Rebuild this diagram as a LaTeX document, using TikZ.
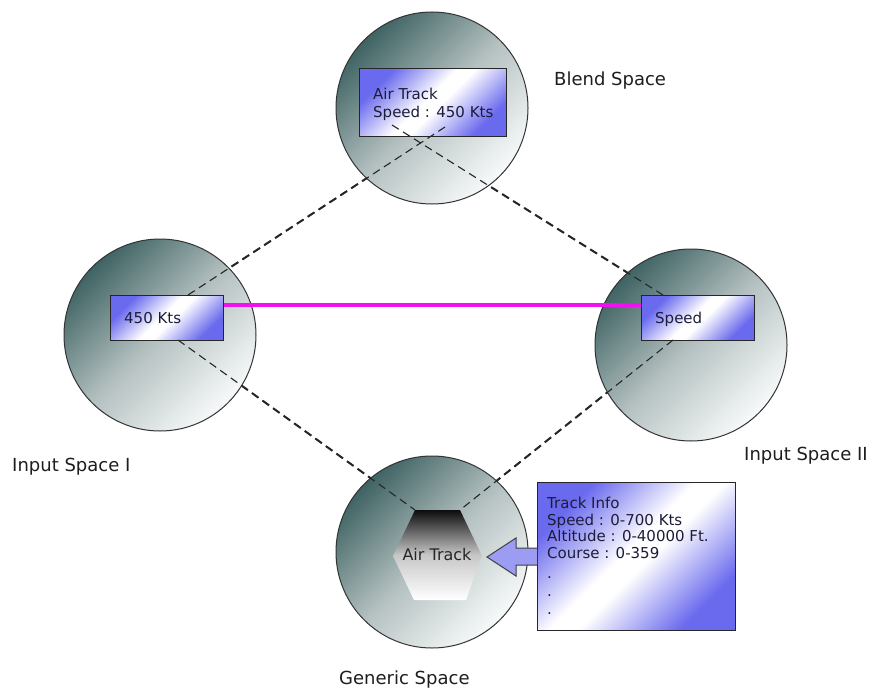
\documentclass[tikz,border=0pt]{standalone}
\usepackage{fontspec}
\setmainfont{DejaVu Sans}
\definecolor{cdark}{HTML}{3F6363}
\definecolor{cmid}{HTML}{B4C0C0}
\definecolor{clight}{HTML}{F8FAFA}
\definecolor{bblue}{HTML}{6A6AEE}
\definecolor{arrowfill}{HTML}{9C9CF2}
\definecolor{txt}{HTML}{1E1E1E}
\definecolor{boxtxt}{HTML}{1C1C3A}
\definecolor{mag}{HTML}{F010F0}
\pgfdeclarehorizontalshading{boxshade}{100bp}{color(0bp)=(bblue); color(26bp)=(bblue); color(47bp)=(white); color(53bp)=(white); color(74bp)=(bblue); color(100bp)=(bblue)}
\tikzset{
  space/.style={circle, minimum size=192pt, inner sep=0pt, draw=black!80, line width=1pt,
    top color=cdark, bottom color=clight, middle color=cmid, shading angle=45},
  infobox/.style={rectangle, inner sep=0pt, draw=black!85, line width=1pt,
    shading=boxshade, shading angle=-45},
  thickdash/.style={black!85, line width=2pt, dash pattern=on 8pt off 5pt},
  thindash/.style={black!85, line width=1.1pt, dash pattern=on 8pt off 5pt},
  magline/.style={mag, line width=4pt},
  label/.style={anchor=base west, inner sep=0pt, text=txt, font=\fontsize{18}{22}\selectfont},
  boxtext/.style={anchor=base west, inner sep=0pt, text=boxtxt, font=\fontsize{15}{18}\selectfont},
}
\begin{document}
\begin{tikzpicture}[x=1pt,y=-1pt]
\useasboundingbox (0,0) rectangle (882,690);
\fill[white] (0,0) rectangle (882,690);

% connector end points
\coordinate (blendA) at (445,127);
\coordinate (blendB) at (392,125);
\coordinate (inOneT) at (188,295);
\coordinate (inOneB) at (178,340);
\coordinate (inTwoT) at (663,295);
\coordinate (inTwoB) at (673,340);
\coordinate (genL) at (415,510);
\coordinate (genR) at (460,510);

% thick parts of the dashed connectors (under the circles)
\draw[thickdash] (blendA) -- (inOneT);
\draw[thickdash] (blendB) -- (inTwoT);
\draw[thickdash] (inOneB) -- (genL);
\draw[thickdash] (inTwoB) -- (genR);

% spaces
\node[space] (blend) at (432,108) {};
\node[space] (inone) at (160,335) {};
\node[space] (intwo) at (691,345) {};
\node[space] (generic) at (432,552) {};

% boxes
\node[infobox, minimum width=147pt, minimum height=68pt, anchor=north west] (blendbox) at (359,68) {};
\node[infobox, minimum width=113pt, minimum height=45pt, anchor=north west] (onebox) at (110,295) {};
\node[infobox, minimum width=113pt, minimum height=45pt, anchor=north west] (twobox) at (641,295) {};

% magenta link
\draw[magline] ([yshift=-10pt]onebox.north east) -- ([yshift=-10pt]twobox.north west);

% thin parts of the dashed connectors (over everything)
\draw[thindash] (blendA) -- (inOneT);
\draw[thindash] (blendB) -- (inTwoT);
\draw[thindash] (inOneB) -- (genL);
\draw[thindash] (inTwoB) -- (genR);

% hexagon
\shade[top color=black!95, bottom color=white, middle color=black!22]
  (415,510) -- (460,510) -- (482,556) -- (466,600) -- (414,600) -- (393,556) -- cycle;
\node[anchor=base, inner sep=0pt, text=black!85, font=\fontsize{16}{19}\selectfont] (airtrack) at (437,560) {Air Track};

% track info box
\node[infobox, minimum width=198pt, minimum height=148pt, anchor=north west] (info) at (537,482) {};

% arrow from info box to hexagon
\fill[arrowfill] (info.west |- 0,548) -- (516,548) -- (516,538) -- (487,557) -- (516,576) -- (516,565) -- (info.west |- 0,565) -- cycle;
\draw[black!75, line width=1pt, line join=miter] (info.west |- 0,548) -- (516,548) -- (516,538) -- (487,557) -- (516,576) -- (516,565) -- (info.west |- 0,565);

% labels
\node[label] (lblend) at (554,86) {Blend Space};
\node[label] (linone) at (12,471) {Input Space I};
\node[label] (lintwo) at (744,460) {Input Space II};
\node[label] (lgeneric) at (339,684) {Generic Space};

% box texts
\node[boxtext] (tb1) at (373,99.5) {Air Track};
\node[boxtext] (tb2) at (373,117.5) {Speed : 450 Kts};
\node[boxtext] (to1) at (124,323) {450 Kts};
\node[boxtext] (tt1) at (655,323) {Speed};
\node[boxtext] (ti1) at (547,508) {Track Info};
\node[boxtext] (ti2) at (547,525) {Speed : 0-700 Kts};
\node[boxtext] (ti3) at (547,541.5) {Altitude : 0-40000 Ft.};
\node[boxtext] (ti4) at (547,558) {Course : 0-359};
\node[boxtext] (ti5) at (547,578) {.};
\node[boxtext] (ti6) at (547,596) {.};
\node[boxtext] (ti7) at (547,614) {.};
\end{tikzpicture}
\end{document}
